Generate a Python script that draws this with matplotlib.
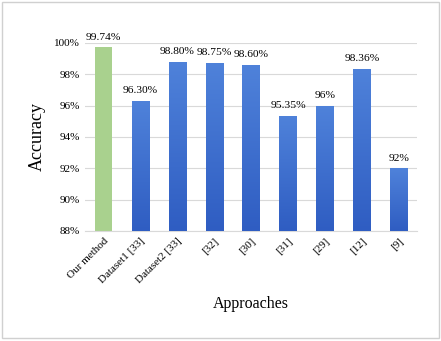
import numpy as np
import matplotlib.pyplot as plt
from matplotlib.colors import LinearSegmentedColormap
from matplotlib.patches import Rectangle

plt.rcParams['font.family'] = ['Liberation Serif', 'DejaVu Serif']

approaches = ['Our method', 'Dataset1 [33]', 'Dataset2 [33]', '[32]', '[30]',
              '[31]', '[29]', '[12]', '[9]']
accuracy = [99.74, 96.30, 98.80, 98.75, 98.60, 95.35, 96.00, 98.36, 92.00]
value_labels = ['99.74%', '96.30%', '98.80%', '98.75%', '98.60%',
                '95.35%', '96%', '98.36%', '92%']
yticks = [88, 90, 92, 94, 96, 98, 100]

fig = plt.figure(figsize=(4.41, 3.41), dpi=100)
ax = fig.add_axes([0.193, 0.323, 0.753, 0.551])

x = np.arange(len(approaches))
colors = ['#a9d18e'] + ['#3f6fd0'] * (len(approaches) - 1)
bars = ax.bar(x, accuracy, width=0.47, color=colors, zorder=2)

# gradient fill for the blue bars
blue = LinearSegmentedColormap.from_list('b', ['#2f5dc2', '#4f82da'])
grad = np.linspace(0, 1, 256).reshape(-1, 1)
for i, b in enumerate(bars):
    if i == 0:
        continue
    bx, by = b.get_x(), b.get_y()
    w, h = b.get_width(), b.get_height()
    im = ax.imshow(grad, cmap=blue, origin='lower', aspect='auto',
                   extent=[bx, bx + w, 88, by + h], zorder=3)
    im.set_clip_path(b)
    b.set_facecolor('none')

for i, v in enumerate(accuracy):
    ax.text(x[i], v + 0.35, value_labels[i], ha='center', va='bottom',
            fontsize=8.2, clip_on=False, zorder=4)

ax.set_xlim(-0.5, len(approaches) - 0.5)
ax.set_ylim(88, 100)
ax.set_yticks(yticks)
ax.set_yticklabels([f'{t}%' for t in yticks], fontsize=8)
ax.set_xticks(x)
ax.set_xticklabels(approaches, rotation=45, ha='right', rotation_mode='anchor',
                   fontsize=8)
ax.tick_params(length=0, pad=4)
ax.yaxis.grid(True, color='#d9d9d9', linewidth=0.8, zorder=0)
ax.set_axisbelow(True)
for s in ['top', 'right', 'left']:
    ax.spines[s].set_visible(False)
ax.spines['bottom'].set_color('#d9d9d9')

ax.set_ylabel('Accuracy', fontsize=13, labelpad=6)
ax.set_xlabel('Approaches', fontsize=11.5, labelpad=8)

fig.patches.append(Rectangle((0.005, 0.008), 0.99, 0.985, transform=fig.transFigure,
                             fill=False, edgecolor='#d0d0d0', linewidth=1))

fig.savefig('out.png', dpi=100)
